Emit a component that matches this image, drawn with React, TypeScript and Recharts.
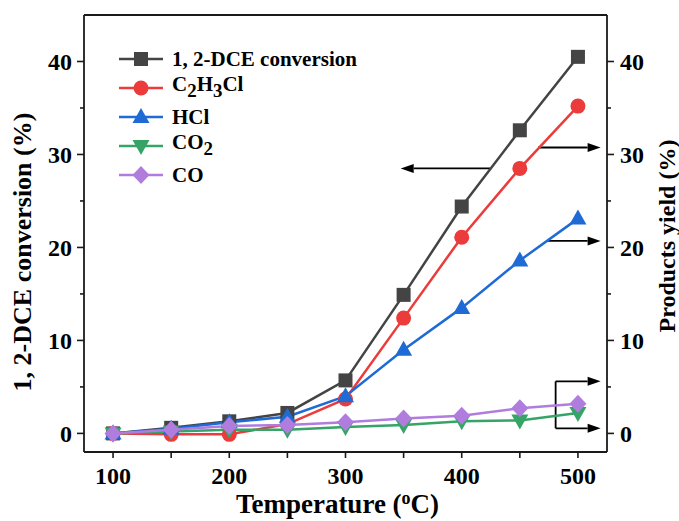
import React from "react"
import { Legend, Line, LineChart, ReferenceLine, XAxis, YAxis } from "recharts"

const temperatures = [100, 150, 200, 250, 300, 350, 400, 450, 500]
const dceConversion = [0, 0.6, 1.3, 2.2, 5.7, 14.9, 24.4, 32.6, 40.5]
const vinylChlorideYield = [0, -0.1, -0.1, 1.0, 3.7, 12.4, 21.1, 28.5, 35.2]
const hclYield = [0, 0.5, 1.2, 1.8, 4.0, 9.0, 13.5, 18.6, 23.1]
const co2Yield = [0, 0.2, 0.4, 0.4, 0.7, 0.9, 1.3, 1.4, 2.2]
const coYield = [0, 0.4, 0.8, 0.9, 1.2, 1.6, 1.9, 2.7, 3.2]

const xTicks = [100, 150, 200, 250, 300, 350, 400, 450, 500]
const yTicks = [0, 5, 10, 15, 20, 25, 30, 35, 40]

// annotation arrows, in data units (from -> to, arrowhead at "to")
const arrows = [
  { from: [424.6, 28.5], to: [347.5, 28.5], head: true },
  { from: [465.7, 30.75], to: [519.5, 30.75], head: true },
  { from: [474, 20.7], to: [519.5, 20.7], head: true },
  { from: [480.8, 5.6], to: [519.5, 5.6], head: true },
  { from: [480.8, 0.55], to: [519.5, 0.55], head: true },
  { from: [480.8, 0.55], to: [480.8, 5.6], head: false },
]

const data = temperatures.map((t, i) => ({
  t,
  dce: dceConversion[i],
  c2h3cl: vinylChlorideYield[i],
  hcl: hclYield[i],
  co2: co2Yield[i],
  co: coYield[i],
}))

const FONT = '"Liberation Serif", "Times New Roman", serif'
const AXIS = "#1a1a1a"

const COLORS = {
  dce: "#444444",
  c2h3cl: "#ec3b3b",
  hcl: "#1f6bd6",
  co2: "#35a466",
  co: "#b07ddf",
}

type Marker = "square" | "circle" | "up" | "down" | "diamond"

function markerPath(kind: Marker, cx: number, cy: number, color: string, key?: number) {
  switch (kind) {
    case "square":
      return <rect key={key} x={cx - 7} y={cy - 7} width={14} height={14} fill={color} />
    case "circle":
      return <circle key={key} cx={cx} cy={cy} r={7.5} fill={color} />
    case "up":
      return (
        <polygon
          key={key}
          points={`${cx},${cy - 9} ${cx + 8.5},${cy + 6} ${cx - 8.5},${cy + 6}`}
          fill={color}
        />
      )
    case "down":
      return (
        <polygon
          key={key}
          points={`${cx},${cy + 9} ${cx + 8.5},${cy - 6} ${cx - 8.5},${cy - 6}`}
          fill={color}
        />
      )
    default:
      return (
        <polygon
          key={key}
          points={`${cx},${cy - 9} ${cx + 8.5},${cy} ${cx},${cy + 9} ${cx - 8.5},${cy}`}
          fill={color}
        />
      )
  }
}

const dot = (kind: Marker, color: string) => (props: any) =>
  markerPath(kind, props.cx, props.cy, color, props.index)

const subStyle = { fontSize: "0.9em", verticalAlign: "-0.3em" }

const legendRows: { kind: Marker; color: string; label: React.ReactNode }[] = [
  { kind: "square", color: COLORS.dce, label: "1, 2-DCE conversion" },
  {
    kind: "circle",
    color: COLORS.c2h3cl,
    label: (
      <span>
        C<sub style={subStyle}>2</sub>H<sub style={subStyle}>3</sub>Cl
      </span>
    ),
  },
  { kind: "up", color: COLORS.hcl, label: "HCl" },
  {
    kind: "down",
    color: COLORS.co2,
    label: (
      <span>
        CO<sub style={subStyle}>2</sub>
      </span>
    ),
  },
  { kind: "diamond", color: COLORS.co, label: "CO" },
]

function LegendBox() {
  return (
    <div style={{ fontFamily: FONT, fontWeight: "bold", fontSize: 21, color: "#000" }}>
      {legendRows.map((r, i) => (
        <div key={i} style={{ display: "flex", alignItems: "center", height: 29 }}>
          <svg width={50} height={22} style={{ marginRight: 5 }}>
            <line x1={2} x2={46} y1={11} y2={11} stroke={r.color} strokeWidth={2.5} />
            {markerPath(r.kind, 24, 11, r.color)}
          </svg>
          <span style={{ lineHeight: "22px", whiteSpace: "nowrap" }}>{r.label}</span>
        </div>
      ))}
    </div>
  )
}

function LeftTick(props: any) {
  const { x, y, payload } = props
  const major = payload.value % 10 === 0
  return (
    <g>
      <line x1={x} x2={x - (major ? 7 : 4)} y1={y} y2={y} stroke={AXIS} strokeWidth={1.6} />
      {major && (
        <text x={x - 12} y={y} dy="0.34em" textAnchor="end" fontFamily={FONT} fontWeight="bold" fontSize={24} fill="#000">
          {payload.value}
        </text>
      )}
    </g>
  )
}

function RightTick(props: any) {
  const { x, y, payload } = props
  const major = payload.value % 10 === 0
  return (
    <g>
      <line x1={x} x2={x + (major ? 7 : 4)} y1={y} y2={y} stroke={AXIS} strokeWidth={1.6} />
      {major && (
        <text x={x + 13} y={y} dy="0.34em" textAnchor="start" fontFamily={FONT} fontWeight="bold" fontSize={24} fill="#000">
          {payload.value}
        </text>
      )}
    </g>
  )
}

function BottomTick(props: any) {
  const { x, y, payload } = props
  const major = payload.value % 100 === 0
  return (
    <g>
      <line x1={x} x2={x} y1={y} y2={y + 6} stroke={AXIS} strokeWidth={1.6} />
      {major && (
        <text x={x} y={y + 15} dy="0.69em" textAnchor="middle" fontFamily={FONT} fontWeight="bold" fontSize={24} fill="#000">
          {payload.value}
        </text>
      )}
    </g>
  )
}

const arrowShape = (head: boolean) => (props: any) => {
  const { x1, y1, x2, y2 } = props
  const dx = x2 - x1
  const dy = y2 - y1
  const len = Math.hypot(dx, dy) || 1
  const ux = dx / len
  const uy = dy / len
  const hl = 13
  const hw = 4.5
  const bx = x2 - ux * hl
  const by = y2 - uy * hl
  return (
    <g>
      <line x1={x1} y1={y1} x2={head ? bx : x2} y2={head ? by : y2} stroke="#000" strokeWidth={1.8} />
      {head && (
        <polygon
          points={`${x2},${y2} ${bx - uy * hw},${by + ux * hw} ${bx + uy * hw},${by - ux * hw}`}
          fill="#000"
        />
      )}
    </g>
  )
}

export default function App() {
  return (
    <div style={{ position: "absolute", left: 0, top: 0, width: 679, height: 521, background: "#fff" }}>
      <LineChart width={679} height={521} data={data} margin={{ top: 15, right: 0, bottom: 0, left: 0 }}>
        <XAxis
          dataKey="t"
          type="number"
          domain={[75, 525]}
          ticks={xTicks}
          interval={0}
          height={69}
          tickSize={0}
          tickMargin={0}
          tick={<BottomTick />}
          axisLine={{ stroke: AXIS, strokeWidth: 1.8 }}
          label={{
            position: "insideBottom",
            content: (p: any) => {
              const vb = p.viewBox
              return (
                <text
                  x={vb.x + vb.width / 2 - 8}
                  y={vb.y + 61}
                  textAnchor="middle"
                  fontFamily={FONT}
                  fontWeight="bold"
                  fontSize={27}
                  fill="#000"
                >
                  Temperature (
                  <tspan dy={-9} fontSize={18}>
                    o
                  </tspan>
                  <tspan dy={9}>C)</tspan>
                </text>
              )
            },
          }}
        />
        <YAxis
          yAxisId="left"
          type="number"
          domain={[-2, 45]}
          ticks={yTicks}
          interval={0}
          width={84}
          tickSize={0}
          tickMargin={0}
          tick={<LeftTick />}
          axisLine={{ stroke: AXIS, strokeWidth: 1.8 }}
          label={{
            position: "insideLeft",
            content: () => (
              <text
                x={22}
                y={252}
                transform="rotate(-90 22 252)"
                textAnchor="middle"
                dominantBaseline="central"
                fontFamily={FONT}
                fontWeight="bold"
                fontSize={26}
                fill="#000"
              >
                1, 2-DCE conversion (%)
              </text>
            ),
          }}
        />
        <YAxis
          yAxisId="right"
          orientation="right"
          type="number"
          domain={[-2, 45]}
          ticks={yTicks}
          interval={0}
          width={72}
          tickSize={0}
          tickMargin={0}
          tick={<RightTick />}
          axisLine={{ stroke: AXIS, strokeWidth: 1.8 }}
          label={{
            position: "insideRight",
            content: () => (
              <text
                x={667}
                y={236}
                transform="rotate(-90 667 236)"
                textAnchor="middle"
                dominantBaseline="central"
                fontFamily={FONT}
                fontWeight="bold"
                fontSize={24}
                fill="#000"
              >
                Products yield (%)
              </text>
            ),
          }}
        />
        <ReferenceLine yAxisId="left" y={45} stroke={AXIS} strokeWidth={1.8} ifOverflow="visible" />
        {arrows.map((a, i) => (
          <ReferenceLine
            key={i}
            yAxisId="left"
            segment={[
              { x: a.from[0], y: a.from[1] },
              { x: a.to[0], y: a.to[1] },
            ]}
            shape={arrowShape(a.head)}
          />
        ))}
        <Line yAxisId="left" dataKey="dce" stroke={COLORS.dce} strokeWidth={2.5} dot={dot("square", COLORS.dce)} activeDot={false} isAnimationActive={false} />
        <Line yAxisId="right" dataKey="c2h3cl" stroke={COLORS.c2h3cl} strokeWidth={2.5} dot={dot("circle", COLORS.c2h3cl)} activeDot={false} isAnimationActive={false} />
        <Line yAxisId="right" dataKey="hcl" stroke={COLORS.hcl} strokeWidth={2.5} dot={dot("up", COLORS.hcl)} activeDot={false} isAnimationActive={false} />
        <Line yAxisId="right" dataKey="co2" stroke={COLORS.co2} strokeWidth={2.5} dot={dot("down", COLORS.co2)} activeDot={false} isAnimationActive={false} />
        <Line yAxisId="right" dataKey="co" stroke={COLORS.co} strokeWidth={2.5} dot={dot("diamond", COLORS.co)} activeDot={false} isAnimationActive={false} />
        <Legend
          layout="vertical"
          align="center"
          verticalAlign="middle"
          wrapperStyle={{ left: 117, top: 44, width: 280, height: 150 }}
          content={() => <LegendBox />}
        />
      </LineChart>
    </div>
  )
}
